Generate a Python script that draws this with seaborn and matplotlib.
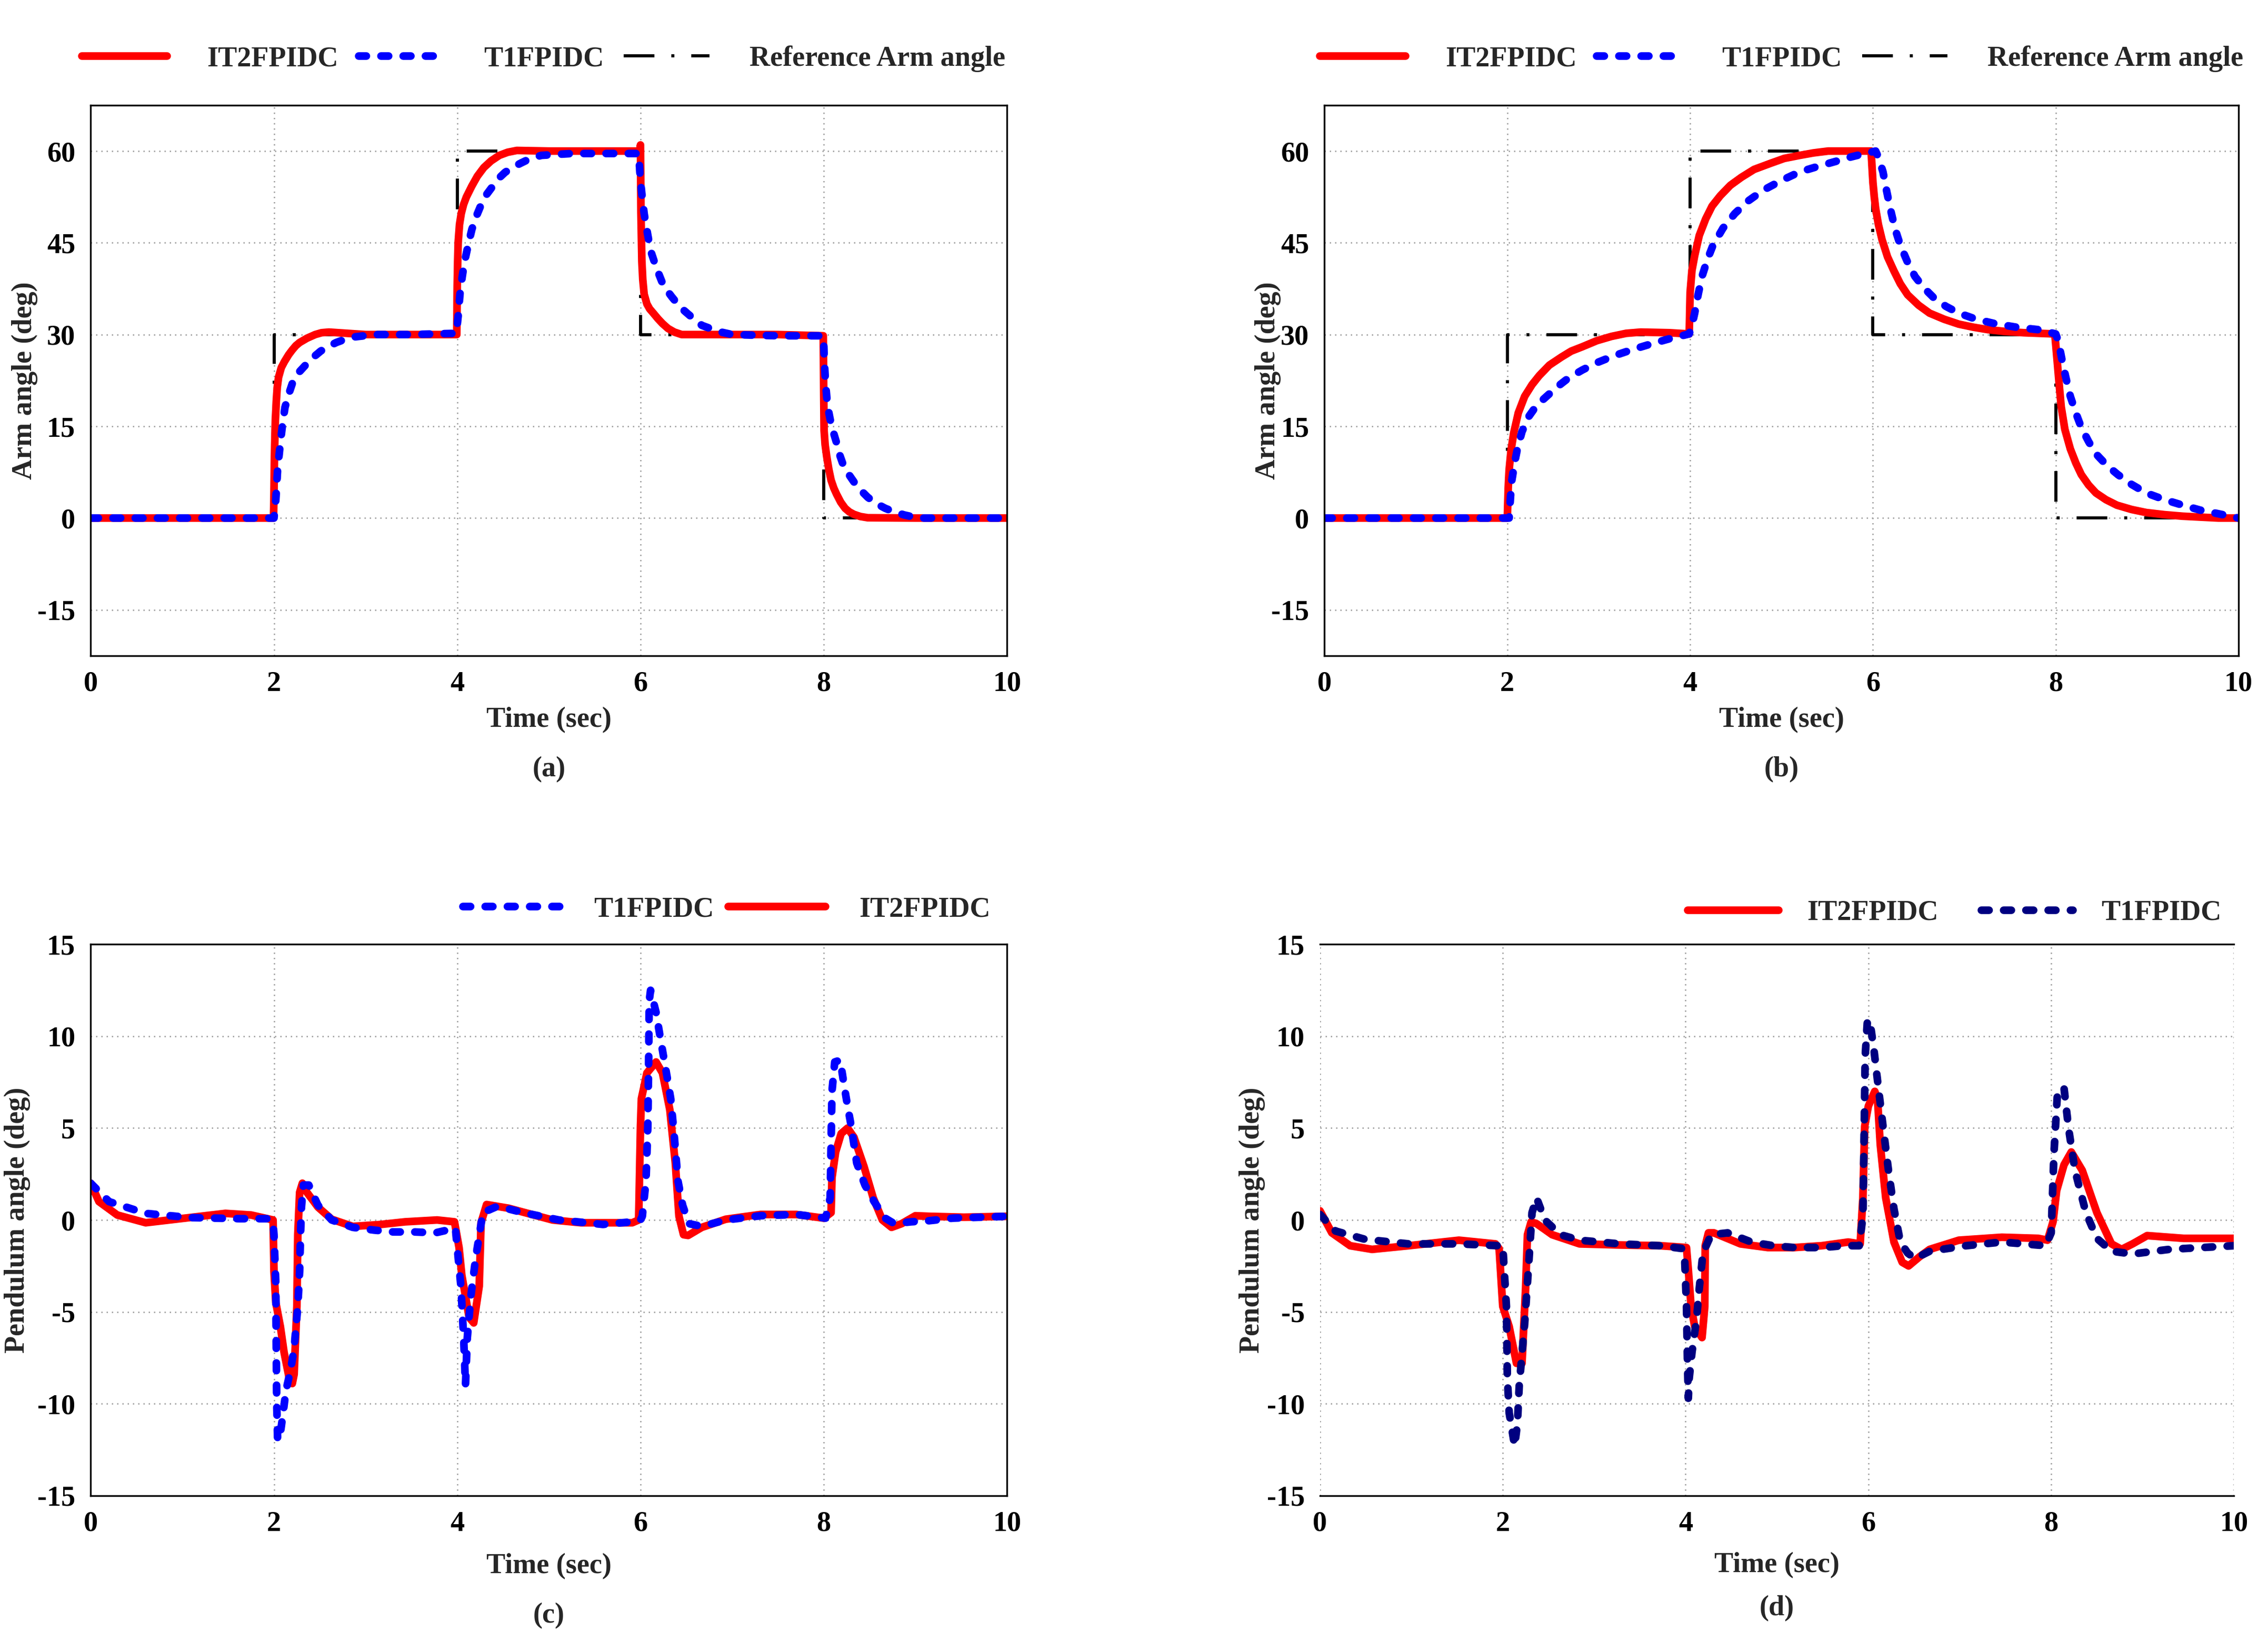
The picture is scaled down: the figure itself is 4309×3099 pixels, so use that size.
import matplotlib
matplotlib.use("Agg")
import matplotlib.pyplot as plt
import seaborn as sns

# ---------------- data ----------------
ref_t = [0, 2, 4, 6, 8, 10]
ref_v = [0, 30, 60, 30, 0, 0]

# (a) arm angle
a_it2_t = [0, 1.995, 2.0, 2.004, 2.008, 2.015, 2.025, 2.035, 2.05, 2.08, 2.115, 2.16, 2.2, 2.24,
           2.28, 2.36, 2.45, 2.52, 2.6, 2.8, 3.0, 3.5, 3.995,
           4.0, 4.005, 4.01, 4.025, 4.044, 4.07, 4.1, 4.16, 4.22, 4.29, 4.37, 4.46, 4.55, 4.65,
           5.0, 5.5, 5.99,
           6.0, 6.005, 6.015, 6.025, 6.04, 6.07, 6.1, 6.14, 6.19, 6.24, 6.3, 6.37, 6.45,
           7.0, 7.5, 7.995,
           8.0, 8.004, 8.015, 8.033, 8.055, 8.08, 8.11, 8.14, 8.185, 8.233, 8.28, 8.33, 8.4,
           8.48, 9.0, 10]
a_it2_v = [0, 0, 4, 9, 12, 16, 19, 21.3, 23, 24.6, 25.6, 26.7, 27.5, 28.2,
           28.7, 29.4, 30.0, 30.3, 30.4, 30.2, 30.0, 30.0, 30.0,
           38, 42, 45, 48, 49.8, 51.3, 52.5, 54.3, 55.9, 57.3, 58.4, 59.3, 59.8, 60.1,
           60.0, 60.0, 60.0,
           61, 50, 42, 39, 36.6, 35.0, 34.2, 33.5, 32.6, 31.8, 31.0, 30.4, 30.0,
           30.0, 30.0, 29.8,
           20, 14.3, 12, 10, 8, 6.2, 4.9, 3.9, 2.6, 1.6, 1.0, 0.6, 0.25,
           0.05, 0, 0]
a_t1_t = [0, 2.0, 2.02, 2.04, 2.07, 2.095, 2.12, 2.16, 2.2, 2.27, 2.35, 2.43, 2.51, 2.6, 2.68,
          2.77, 2.87, 3.1, 3.5, 3.99,
          4.01, 4.03, 4.055, 4.08, 4.12, 4.16, 4.21, 4.26, 4.32, 4.39, 4.45, 4.52, 4.6, 4.69,
          4.8, 4.92, 5.25, 5.98,
          6.0, 6.02, 6.04, 6.065, 6.09, 6.12, 6.16, 6.2, 6.24, 6.29, 6.34, 6.4, 6.47, 6.57,
          6.67, 6.85, 7.0, 7.5, 7.99,
          8.0, 8.006, 8.02, 8.04, 8.06, 8.08, 8.11, 8.14, 8.17, 8.21, 8.27, 8.33, 8.4, 8.48,
          8.57, 8.67, 8.77, 8.88, 9.03, 10]
a_t1_v = [0, 0, 3, 8, 12.3, 15.5, 18.1, 20.2, 22, 23.8, 25.1, 26.3, 27.3, 28.1, 28.7,
          29.2, 29.6, 30, 30, 30.2,
          33, 36.6, 39.5, 41.9, 44.7, 47.2, 49.4, 51.2, 52.9, 54.3, 55.5, 56.5, 57.3, 58,
          58.8, 59.3, 59.6, 59.6,
          55.1, 52.3, 49.8, 47.5, 45.4, 43.3, 41.5, 39.9, 38.4, 37.2, 36.2, 35.1, 34, 32.7,
          31.5, 30.5, 30, 29.8, 29.8,
          28.6, 25.8, 22, 18.6, 16.9, 15.4, 13.8, 12.3, 10.5, 8.8, 7.2, 5.9, 4.6, 3.4,
          2.4, 1.6, 1.0, 0.5, 0, 0]

# (b) arm angle
b_it2_t = [0, 2.0, 2.01, 2.02, 2.04, 2.07, 2.12, 2.19, 2.27, 2.35, 2.46, 2.59, 2.7, 2.82, 2.98,
           3.14, 3.3, 3.46, 3.77, 3.99,
           4.0, 4.02, 4.05, 4.1, 4.17, 4.24, 4.33, 4.44, 4.56, 4.7, 4.88, 5.03, 5.2, 5.35, 5.51,
           5.83, 5.98,
           6.0, 6.015, 6.03, 6.06, 6.1, 6.16, 6.23, 6.3, 6.38, 6.5, 6.62, 6.78, 6.94, 7.1, 7.26,
           7.45, 7.65, 7.99,
           8.02, 8.04, 8.06, 8.1, 8.16, 8.22, 8.28, 8.36, 8.44, 8.55, 8.67, 8.83, 8.99, 9.19,
           9.39, 9.78, 10]
b_it2_v = [0, 0, 5, 7.9, 11, 13.9, 17.2, 19.9, 21.8, 23.3, 25, 26.3, 27.3, 28.0, 29.0,
           29.7, 30.2, 30.4, 30.3, 30.1,
           36.9, 40.5, 42.9, 46.2, 48.9, 51.0, 52.7, 54.4, 55.7, 57.0, 58.0, 58.8, 59.3, 59.7, 60.0,
           60.0, 60.0,
           54.9, 52.5, 50.6, 48.0, 45.5, 42.7, 40.4, 38.3, 36.5, 34.8, 33.5, 32.5, 31.7, 31.2, 30.8,
           30.5, 30.3, 30.1,
           25.0, 21.5, 18.2, 14.5, 11.3, 9.0, 7.1, 5.4, 4.1, 3.0, 2.1, 1.4, 0.9, 0.55,
           0.3, 0.0, 0.0]
b_t1_t = [0, 2.02, 2.035, 2.05, 2.08, 2.11, 2.16, 2.23, 2.32, 2.43, 2.55, 2.67, 2.82, 2.98,
          3.18, 3.38, 3.58, 3.77, 3.99,
          4.02, 4.05, 4.09, 4.13, 4.19, 4.25, 4.36, 4.49, 4.64, 4.8, 5.0, 5.2, 5.4, 5.59, 5.75,
          5.91, 6.03,
          6.06, 6.11, 6.15, 6.19, 6.24, 6.3, 6.38, 6.46, 6.56, 6.66, 6.8, 6.94, 7.13, 7.33,
          7.57, 7.81, 8.0,
          8.02, 8.05, 8.08, 8.12, 8.16, 8.22, 8.28, 8.36, 8.44, 8.56, 8.68, 8.83, 8.99, 9.19,
          9.39, 9.58, 9.78, 10]
b_t1_v = [0, 0, 3.5, 6.2, 9.0, 11.3, 14.1, 16.5, 18.4, 19.9, 21.5, 22.9, 24.2, 25.4,
          26.6, 27.6, 28.5, 29.3, 30.1,
          31.5, 33.5, 36.7, 39.5, 42.3, 44.6, 47.4, 49.8, 51.9, 53.6, 55.2, 56.6, 57.5, 58.3, 59.0,
          59.6, 60.0,
          59.0, 56.6, 53.5, 50.6, 47.4, 44.6, 41.8, 39.5, 37.6, 36.1, 34.6, 33.5, 32.5, 31.8,
          31.2, 30.8, 30.1,
          29.3, 27.3, 25.0, 22.4, 19.9, 17.2, 14.8, 12.5, 10.5, 8.6, 7.1, 5.5, 4.1, 3.0,
          2.1, 1.3, 0.7, 0.0]

# (c) pendulum angle
c_it2_t = [0, 0.09, 0.29, 0.6, 1.08, 1.47, 1.75, 1.99, 2.0, 2.02, 2.07, 2.11, 2.17, 2.2, 2.22,
           2.25, 2.26, 2.28, 2.31, 2.36, 2.48, 2.63, 2.86, 3.15, 3.43, 3.78, 3.97,
           4.02, 4.05, 4.13, 4.18, 4.24, 4.26, 4.32, 4.56, 5.04, 5.35, 5.91, 5.98,
           6.0, 6.01, 6.07, 6.17, 6.24, 6.32, 6.38, 6.42, 6.47, 6.52, 6.67, 6.93, 7.31, 7.7, 8.0,
           8.08, 8.09, 8.13, 8.19, 8.26, 8.33, 8.44, 8.54, 8.64, 8.74, 8.85, 9.0, 9.15, 9.53, 10]
c_it2_v = [2.0, 1.0, 0.27, -0.15, 0.13, 0.36, 0.27, 0.0, -2.8, -4.5, -5.8, -7.2, -8.7, -8.9, -8.4,
           -4.7, -0.8, 1.5, 2.0, 1.5, 0.7, 0.04, -0.35, -0.25, -0.1, 0.0, -0.1,
           -1.5, -3.0, -5.3, -5.6, -3.6, -0.15, 0.84, 0.64, 0.0, -0.15, -0.15, 0.0,
           5.1, 6.6, 8.0, 8.6, 8.0, 6.0, 3.1, 0.2, -0.8, -0.84, -0.4, 0.04, 0.3, 0.3, 0.1,
           0.4, 2.3, 3.7, 4.7, 5.0, 4.5, 2.9, 1.2, 0.0, -0.4, -0.2, 0.23, 0.2, 0.15, 0.2]
c_t1_t = [0, 0.2, 0.6, 1.08, 1.63, 1.95, 1.99, 2.0, 2.02, 2.025, 2.03, 2.04, 2.07, 2.1, 2.13,
          2.18, 2.22, 2.24, 2.26, 2.28, 2.29, 2.3, 2.32, 2.38, 2.48, 2.63, 2.86, 3.09, 3.3,
          3.53, 3.76, 3.98, 4.04, 4.07, 4.09, 4.11, 4.15, 4.2, 4.28, 4.44, 4.72, 5.11, 5.59,
          5.91, 6.0, 6.02, 6.06, 6.08, 6.09, 6.095, 6.11, 6.17, 6.21, 6.25, 6.29, 6.33, 6.37,
          6.41, 6.46, 6.53, 6.67, 6.93, 7.31, 7.7, 8.02, 8.07, 8.08, 8.09, 8.12, 8.18, 8.22,
          8.26, 8.3, 8.36, 8.45, 8.55, 8.67, 8.77, 8.95, 9.15, 9.41, 10]
c_t1_v = [2.0, 1.0, 0.36, 0.13, 0.07, 0.07, -0.2, -0.8, -3.5, -7.0, -10.0, -12.0, -11.6, -10.5, -9.3,
          -8.2, -7.0, -5.8, -4.7, -2.8, -0.8, 0.7, 1.9, 1.9, 0.8, 0.0, -0.4, -0.55, -0.65,
          -0.65, -0.7, -0.45, -3.6, -6.4, -9.0, -6.4, -4.1, -2.1, 0.4, 0.75, 0.4, 0.0, -0.24,
          -0.1, 0.0, 0.2, 2.1, 5.1, 9.0, 11.9, 12.5, 11.3, 10.1, 8.95, 7.8, 6.6, 4.5,
          2.1, 0.8, -0.2, -0.35, 0.0, 0.23, 0.3, 0.1, 1.2, 4.1, 7.0, 8.6, 8.7, 7.4,
          6.2, 5.1, 3.1, 1.9, 1.0, 0.1, -0.2, -0.1, -0.04, 0.1, 0.2]

# (d) pendulum angle
d_it2_t = [0, 0.13, 0.33, 0.57, 0.97, 1.52, 1.92, 1.96, 2.0, 2.07, 2.15, 2.21, 2.25, 2.27, 2.31,
           2.37, 2.54, 2.84, 3.28, 3.72, 4.01, 4.03, 4.06, 4.1, 4.18, 4.21, 4.215, 4.25, 4.31,
           4.6, 4.9, 5.19, 5.49, 5.78, 5.91, 5.94, 5.96, 6.0, 6.07, 6.1, 6.13, 6.19, 6.28,
           6.37, 6.44, 6.56, 6.67, 6.99, 7.46, 7.86, 7.96, 8.02, 8.06, 8.14, 8.22, 8.34, 8.5,
           8.66, 8.77, 8.89, 9.05, 9.45, 10]
d_it2_v = [0.5, -0.7, -1.4, -1.6, -1.4, -1.1, -1.3, -1.56, -4.7, -5.8, -7.8, -7.8, -3.7, -0.8, -0.1,
           -0.2, -0.8, -1.3, -1.36, -1.4, -1.5, -2.7, -4.7, -5.8, -6.4, -4.7, -1.4, -0.7, -0.7,
           -1.3, -1.5, -1.5, -1.4, -1.2, -1.3, 1.2, 5.1, 6.2, 7.0, 6.6, 4.1, 1.2, -1.2,
           -2.3, -2.5, -2.0, -1.6, -1.1, -0.94, -1.0, -1.1, -0.1, 1.6, 3.0, 3.7, 2.7, 0.4,
           -1.3, -1.6, -1.3, -0.85, -1.0, -1.0]
d_t1_t = [0, 0.17, 0.49, 0.97, 1.52, 1.96, 2.0, 2.04, 2.05, 2.07, 2.13, 2.16, 2.18, 2.24, 2.28,
          2.32, 2.37, 2.46, 2.63, 2.84, 3.28, 3.72, 3.96, 3.99, 4.01, 4.02, 4.03, 4.04, 4.07,
          4.12, 4.15, 4.19, 4.28, 4.46, 4.72, 4.96, 5.19, 5.49, 5.72, 5.9, 5.94, 5.955, 5.965,
          5.99, 6.02, 6.06, 6.1, 6.16, 6.22, 6.28, 6.35, 6.43, 6.51, 6.67, 7.07, 7.46, 7.94,
          8.0, 8.03, 8.07, 8.14, 8.19, 8.26, 8.38, 8.5, 8.66, 8.89, 9.29, 10]
d_t1_v = [0.3, -0.6, -1.05, -1.3, -1.3, -1.4, -1.4, -4.7, -8.6, -10.5, -12.3, -11.1, -9.0, -5.6, -2.7,
          0.4, 1.2, 0.0, -0.8, -1.1, -1.3, -1.4, -1.55, -2.1, -4.7, -7.6, -9.7, -8.6, -7.2,
          -5.4, -3.7, -1.8, -0.8, -0.7, -1.2, -1.4, -1.5, -1.5, -1.4, -1.4, 0.2, 5.1, 8.9,
          10.9, 10.7, 9.3, 7.6, 5.1, 2.7, 0.6, -1.2, -1.8, -2.1, -1.7, -1.4, -1.2, -1.4,
          -0.7, 3.6, 7.0, 7.2, 5.0, 2.7, 0.4, -1.0, -1.7, -1.85, -1.6, -1.4]

arm_ticks = [-15, 0, 15, 30, 45, 60]
pend_ticks = [-15, -10, -5, 0, 5, 10, 15]
x_ticks = [0, 2, 4, 6, 8, 10]

# ---------------- styling ----------------
sns.set_theme(style="white")
plt.rcParams["font.family"] = ["Liberation Serif", "DejaVu Serif"]
plt.rcParams["font.weight"] = "bold"
plt.rcParams["axes.labelweight"] = "bold"

FS = 13
RED = "#ff0000"
BLUE = "#0000ff"
NAVY = "#000080"
LW = 3.5

fig = plt.figure(figsize=(4309 / 300, 3099 / 300), dpi=300)
fig.patch.set_facecolor("white")

def draw(ax, t, v, color, label, kind):
    sns.lineplot(x=t, y=v, ax=ax, color=color, estimator=None, sort=False,
                 linewidth=LW if kind != "ref" else 1.4, label=label,
                 drawstyle="steps-post" if kind == "ref" else "default")
    ln = ax.lines[-1]
    if kind == "dash":
        ln.set_dashes([1.0, 1.9])
        ln.set_dash_capstyle("round")
        ln.set_dash_joinstyle("round")
    elif kind == "ref":
        ln.set_dashes([10, 5.5, 1, 5.5])
        ln.set_dash_capstyle("butt")
    else:
        ln.set_solid_capstyle("round")
        ln.set_solid_joinstyle("round")
    return ln

def style(ax, ylim, yticks, ylabel, ylab_x, xlab_y, letter, letter_y):
    ax.set_xlim(0, 10)
    ax.set_ylim(*ylim)
    ax.set_xticks(x_ticks)
    ax.set_yticks(yticks)
    ax.set_xticklabels([str(x) for x in x_ticks])
    ax.set_yticklabels([str(y) for y in yticks])
    ax.tick_params(axis="both", length=0, labelsize=FS, colors="black")
    ax.tick_params(axis="x", pad=7)
    ax.tick_params(axis="y", pad=7)
    ax.grid(True, color="#9a9a9a", linestyle=(0, (1, 3)), linewidth=0.6)
    ax.set_axisbelow(True)
    for s in ax.spines.values():
        s.set_color("black")
        s.set_linewidth(0.8)
    ax.set_xlabel("Time (sec)", fontsize=FS, fontweight="bold", va="center")
    ax.set_ylabel(ylabel, fontsize=FS, fontweight="bold", va="center")
    ax.xaxis.set_label_coords(0.5, xlab_y)
    ax.yaxis.set_label_coords(ylab_x, 0.5)
    ax.text(0.5, letter_y, letter, transform=ax.transAxes, ha="center", va="center",
            fontsize=FS, fontweight="bold")

leg_prop = {"weight": "bold", "size": FS, "family": ["Liberation Serif"]}

# (a)
ax_a = fig.add_axes([0.040, 0.598, 0.404, 0.3375])
r = draw(ax_a, ref_t, ref_v, "black", "Reference Arm angle", "ref")
l1 = draw(ax_a, a_it2_t, a_it2_v, RED, "IT2FPIDC", "solid")
l2 = draw(ax_a, a_t1_t, a_t1_v, BLUE, "T1FPIDC", "dash")
style(ax_a, (-22.5, 67.5), arm_ticks, "Arm angle (deg)", -0.072, -0.117, "(a)", -0.207)
ax_a.legend([l1, l2, r], ["IT2FPIDC", "T1FPIDC", "Reference Arm angle"], ncol=3,
            frameon=False, loc="center", bbox_to_anchor=(0.494, 1.084), prop=leg_prop,
            handlelength=3.0, handletextpad=1.4, columnspacing=0.7)

# (b)
ax_b = fig.add_axes([0.584, 0.598, 0.403, 0.3375])
r = draw(ax_b, ref_t, ref_v, "black", "Reference Arm angle", "ref")
l1 = draw(ax_b, b_it2_t, b_it2_v, RED, "IT2FPIDC", "solid")
l2 = draw(ax_b, b_t1_t, b_t1_v, BLUE, "T1FPIDC", "dash")
style(ax_b, (-22.5, 67.5), arm_ticks, "Arm angle (deg)", -0.062, -0.117, "(b)", -0.207)
ax_b.legend([l1, l2, r], ["IT2FPIDC", "T1FPIDC", "Reference Arm angle"], ncol=3,
            frameon=False, loc="center", bbox_to_anchor=(0.5, 1.084), prop=leg_prop,
            handlelength=3.0, handletextpad=1.4, columnspacing=0.7)

# (c)
ax_c = fig.add_axes([0.040, 0.083, 0.404, 0.338])
l1 = draw(ax_c, c_it2_t, c_it2_v, RED, "IT2FPIDC", "solid")
l2 = draw(ax_c, c_t1_t, c_t1_v, BLUE, "T1FPIDC", "dash")
style(ax_c, (-15, 15), pend_ticks, "Pendulum angle (deg)", -0.08, -0.128, "(c)", -0.218)
ax_c.legend([l2, l1], ["T1FPIDC", "IT2FPIDC"], ncol=2,
            frameon=False, loc="center", bbox_to_anchor=(0.694, 1.063), prop=leg_prop,
            handlelength=3.4, handletextpad=1.2, columnspacing=0.5)

# (d)
ax_d = fig.add_axes([0.582, 0.083, 0.403, 0.338])
l1 = draw(ax_d, d_it2_t, d_it2_v, RED, "IT2FPIDC", "solid")
l2 = draw(ax_d, d_t1_t, d_t1_v, NAVY, "T1FPIDC", "dash")
style(ax_d, (-15, 15), pend_ticks, "Pendulum angle (deg)", -0.074, -0.126, "(d)", -0.205)
ax_d.spines["left"].set_visible(False)
ax_d.spines["right"].set_visible(False)
ax_d.legend([l1, l2], ["IT2FPIDC", "T1FPIDC"], ncol=2,
            frameon=False, loc="center", bbox_to_anchor=(0.694, 1.057), prop=leg_prop,
            handlelength=3.2, handletextpad=1.0, columnspacing=1.5)

fig.savefig("out.png", dpi=300, facecolor="white")
